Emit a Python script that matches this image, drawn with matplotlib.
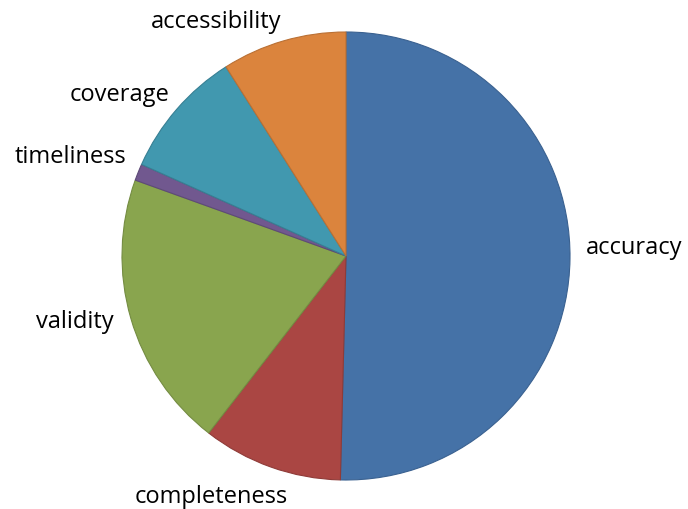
import matplotlib.pyplot as plt

plt.rcParams['font.family'] = ['Open Sans', 'DejaVu Sans']

labels = ['accuracy', 'completeness', 'validity', 'timeliness', 'coverage', 'accessibility']
values = [50.4, 10.1, 20.0, 1.2, 9.3, 9.0]
colors = ['#4572A7', '#AA4643', '#89A54E', '#71588F', '#4198AF', '#DB843D']
edges = ['#3A6190', '#8F3B38', '#748C42', '#5E4A78', '#377F93', '#BA7034']

# label spots (pie radius = 1)
label_xy = [(1.286, 0.040), (-0.603, -1.072), (-1.210, -0.290),
            (-1.228, 0.446), (-1.009, 0.723), (-0.580, 1.050)]

fig = plt.figure(figsize=(6.88, 5.10), dpi=100)
ax = fig.add_axes([122/688, 29/510, 448/688, 448/510])

wedges, _ = ax.pie(values, colors=colors, startangle=90, counterclock=False,
                   radius=1, wedgeprops=dict(linewidth=0.8))
for w, ec in zip(wedges, edges):
    w.set_edgecolor(ec)

for lab, (x, y) in zip(labels, label_xy):
    ax.text(x, y, lab, ha='center', va='center', fontsize=17, color='black', clip_on=False)

ax.set_xlim(-1, 1)
ax.set_ylim(-1, 1)
ax.set_aspect('equal')
ax.axis('off')

fig.savefig('out.png', dpi=100)
